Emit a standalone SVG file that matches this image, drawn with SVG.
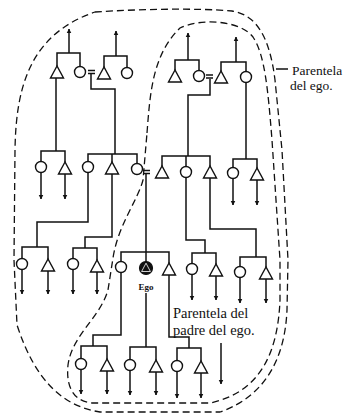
<svg xmlns="http://www.w3.org/2000/svg" xmlns:xlink="http://www.w3.org/1999/xlink" width="350" height="418" viewBox="0 0 350 418">
<style>
.ln{fill:none;stroke:#111;stroke-width:1.5}
.ar{fill:none;stroke:#111;stroke-width:1.5;marker-end:url(#ah)}
.sym{fill:#fff;stroke:#111;stroke-width:1.4}
.dash{fill:none;stroke:#111;stroke-width:1.3;stroke-dasharray:7 4}
.lbl{font-family:"Liberation Serif","Times New Roman",serif;font-size:13.5px;fill:#111}
.lbl2{font-family:"Liberation Serif","Times New Roman",serif;font-size:14.5px;fill:#111}
.ego{font-family:"Liberation Serif","Times New Roman",serif;font-size:9px;font-weight:bold;fill:#111}
</style>
<defs>
<marker id="ah" viewBox="0 0 10 10" refX="9" refY="5" markerWidth="4.5" markerHeight="6" markerUnits="userSpaceOnUse" orient="auto"><path d="M0,0 L10,5 L0,10 z" fill="#111"/></marker>
<polygon id="tri" class="sym" points="0,0 -6.5,12 6.5,12"/>
<circle id="cir" class="sym" r="5.5"/>
</defs>
<rect width="350" height="418" fill="#fff"/>

<g id="boundaries">
<path class="dash" d="M95,12 C140,9 200,8 232,11 C258,15 270,40 275,80 L282,150 L288,260 L287,310 C285,355 268,395 220,412 L100,412 C62,406 35,380 17,325 L14,260 L15,150 C16,90 28,35 95,12 Z"/>
<path class="dash" d="M147,133 C150,95 152,55 180,28 C200,18 240,20 253,37 C265,55 268,90 272,140 L280,260 L280,300 C278,350 262,392 210,403 L92,403 C72,401 66,385 68,365 C72,335 100,318 108,290 L113,258 C118,225 138,200 143,180 L147,133 Z"/>
</g>

<g id="connectors">
<path class="ln" d="M57,66 V53 H80 V66.5"/>
<path class="ar" d="M69,53 V29"/>
<path class="ln" d="M104,67 V56 H127 V67.5"/>
<path class="ar" d="M116,56 V31"/>
<path class="ln" d="M175,70 V60 H199 V70.5"/>
<path class="ar" d="M188,60 V33"/>
<path class="ln" d="M221,71 V62 H246 V71.5"/>
<path class="ar" d="M236,62 V37"/>
<path class="ln" d="M88,70.5 H95 M88,73.5 H95"/>
<path class="ln" d="M206,75 H213 M206,78 H213"/>
<path class="ln" d="M91,74 V89 H115 V154"/>
<path class="ln" d="M210,79 V95 H188 V156"/>
<path class="ln" d="M246,82.5 V159"/>
<path class="ln" d="M56,78 V151"/>

<path class="ln" d="M41,161.5 V151 H65 V162"/>
<path class="ar" d="M41,172.5 V199"/>
<path class="ar" d="M65,174 V199"/>
<path class="ln" d="M88,161.5 V154 H137 V163.5 M112,154 V162"/>
<path class="ln" d="M143,170.5 H150 M143,173.5 H150"/>
<path class="ln" d="M162,166 V156 H210 V166 M186,156 V166.5"/>
<path class="ln" d="M233,167.5 V159 H257 V168"/>
<path class="ar" d="M233,178.5 V205"/>
<path class="ar" d="M257,180 V205"/>

<path class="ln" d="M88,172.5 V222 H37 V247"/>
<path class="ln" d="M112,174 V237 H85 V248"/>
<path class="ln" d="M146,174 V262"/>
<path class="ln" d="M186,177.5 V240 H205 V253"/>
<path class="ln" d="M210,178 V229 H256 V257"/>

<path class="ln" d="M22,258.5 V247 H48 V259"/>
<path class="ar" d="M22,269.5 V294"/>
<path class="ar" d="M48,271 V294"/>
<path class="ln" d="M73,258.5 V248 H97 V260"/>
<path class="ar" d="M73,269.5 V294"/>
<path class="ar" d="M97,272 V294"/>
<path class="ln" d="M121,261.5 V252 H169 V263"/>
<path class="ln" d="M192,263.5 V253 H216 V264"/>
<path class="ar" d="M192,274.5 V300"/>
<path class="ar" d="M216,276 V300"/>
<path class="ln" d="M240,266.5 V257 H266 V267"/>
<path class="ar" d="M240,277.5 V303"/>
<path class="ar" d="M266,279 V303"/>

<path class="ln" d="M121,272.5 V335 H93 V346"/>
<path class="ln" d="M146,293 V347"/>
<path class="ln" d="M169,275 V337 H189 V348"/>

<path class="ln" d="M81,358.5 V346 H107 V359"/>
<path class="ar" d="M81,369.5 V394"/>
<path class="ar" d="M107,371 V394"/>
<path class="ln" d="M130,359.5 V347 H156 V360"/>
<path class="ar" d="M130,370.5 V395"/>
<path class="ar" d="M156,372 V395"/>
<path class="ln" d="M177,360.5 V348 H201 V361"/>
<path class="ar" d="M177,371.5 V398"/>
<path class="ar" d="M201,373 V398"/>

<path class="ar" d="M221,343 V384"/>
<path class="ln" d="M276,69 H288"/>
</g>

<g id="t1"><use xlink:href="#tri" x="57" y="66"/></g>
<g id="c1"><use xlink:href="#cir" x="80" y="72"/></g>
<g id="t2"><use xlink:href="#tri" x="104" y="67"/></g>
<g id="c2"><use xlink:href="#cir" x="127" y="73"/></g>
<g id="t3"><use xlink:href="#tri" x="175" y="70"/></g>
<g id="c3"><use xlink:href="#cir" x="199" y="76"/></g>
<g id="t4"><use xlink:href="#tri" x="221" y="71"/></g>
<g id="c4"><use xlink:href="#cir" x="246" y="77"/></g>

<g id="c5"><use xlink:href="#cir" x="41" y="167"/></g>
<g id="t5"><use xlink:href="#tri" x="65" y="162"/></g>
<g id="c6"><use xlink:href="#cir" x="88" y="167"/></g>
<g id="t6"><use xlink:href="#tri" x="112" y="162"/></g>
<g id="c7"><use xlink:href="#cir" x="137" y="169"/></g>
<g id="t7"><use xlink:href="#tri" x="162" y="166"/></g>
<g id="c8"><use xlink:href="#cir" x="186" y="172"/></g>
<g id="t8"><use xlink:href="#tri" x="210" y="166"/></g>
<g id="c9"><use xlink:href="#cir" x="233" y="173"/></g>
<g id="t9"><use xlink:href="#tri" x="257" y="168"/></g>

<g id="c10"><use xlink:href="#cir" x="22" y="264"/></g>
<g id="t10"><use xlink:href="#tri" x="48" y="259"/></g>
<g id="c11"><use xlink:href="#cir" x="73" y="264"/></g>
<g id="t11"><use xlink:href="#tri" x="97" y="260"/></g>
<g id="c12"><use xlink:href="#cir" x="121" y="267"/></g>
<g id="ego">
<circle cx="146" cy="268" r="6.5" fill="#111" stroke="#111" stroke-width="1.2"/>
<polygon points="146,263.2 141.6,271.5 150.4,271.5" fill="#111" stroke="#fff" stroke-width="0.8"/>
<text class="ego" x="146" y="290" text-anchor="middle">Ego</text>
</g>
<g id="t12"><use xlink:href="#tri" x="169" y="263"/></g>
<g id="c13"><use xlink:href="#cir" x="192" y="269"/></g>
<g id="t13"><use xlink:href="#tri" x="216" y="264"/></g>
<g id="c14"><use xlink:href="#cir" x="240" y="272"/></g>
<g id="t14"><use xlink:href="#tri" x="266" y="267"/></g>

<g id="c15"><use xlink:href="#cir" x="81" y="364"/></g>
<g id="t15"><use xlink:href="#tri" x="107" y="359"/></g>
<g id="c16"><use xlink:href="#cir" x="130" y="365"/></g>
<g id="t16"><use xlink:href="#tri" x="156" y="360"/></g>
<g id="c17"><use xlink:href="#cir" x="177" y="366"/></g>
<g id="t17"><use xlink:href="#tri" x="201" y="361"/></g>

<g id="label-ego">
<text class="lbl" x="292" y="75">Parentela</text>
<text class="lbl" x="290" y="90">del ego.</text>
</g>
<g id="label-padre">
<text class="lbl2" x="173" y="318">Parentela del</text>
<text class="lbl2" x="173" y="335">padre del ego.</text>
</g>
</svg>
